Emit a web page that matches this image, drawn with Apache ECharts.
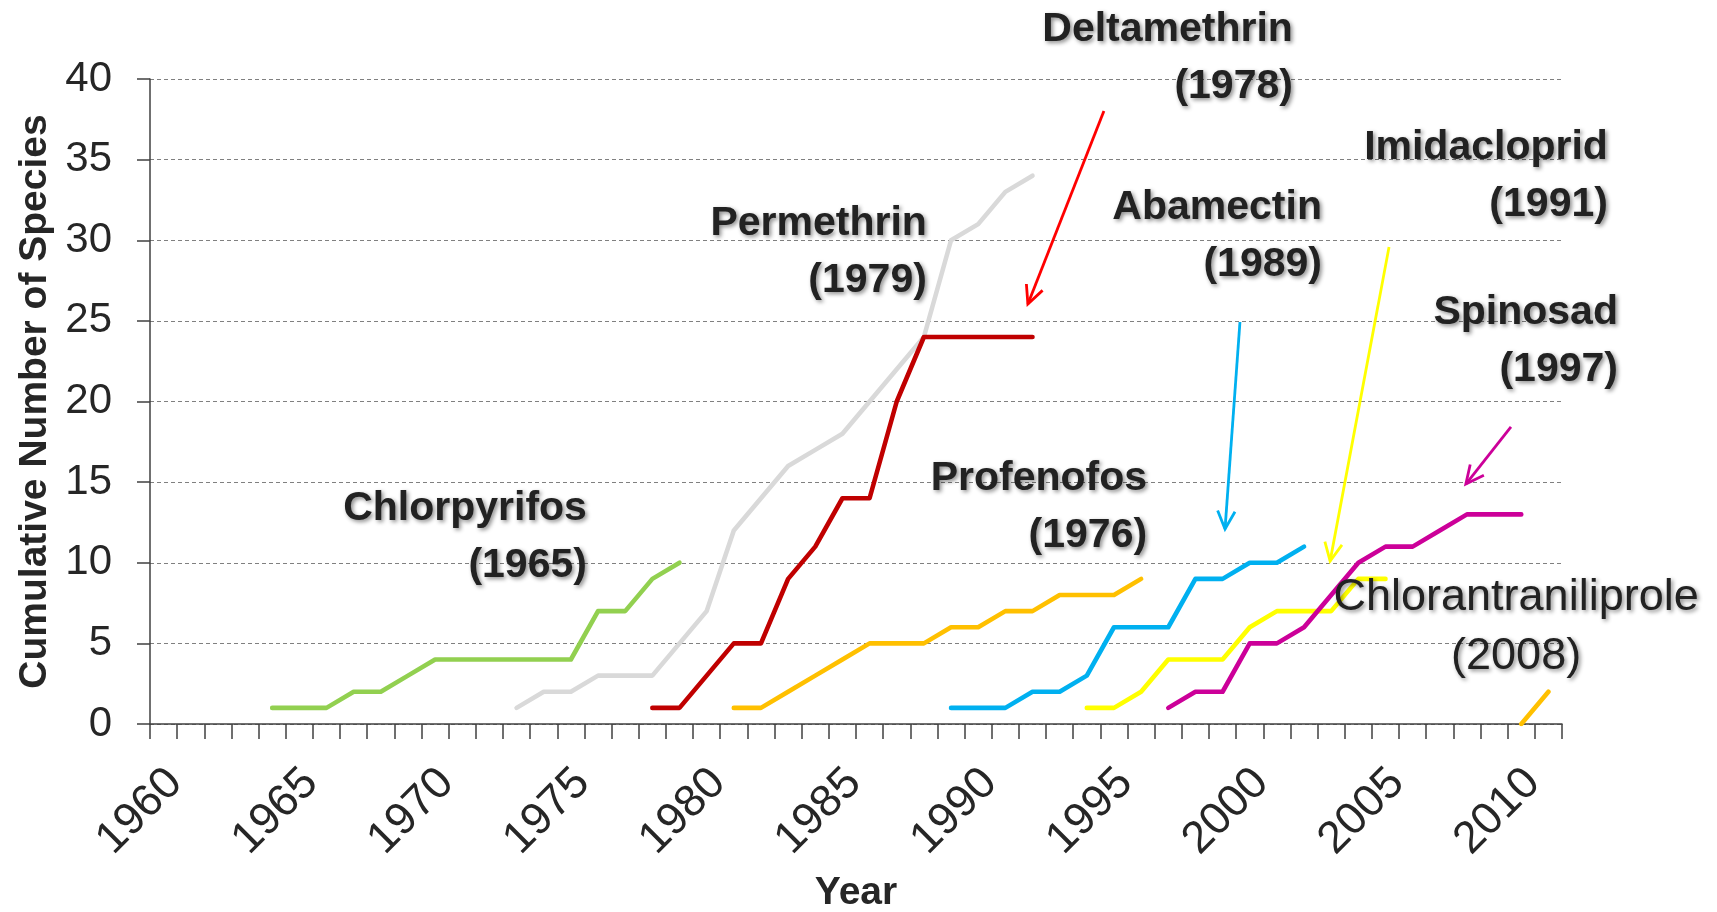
<!DOCTYPE html>
<html><head><meta charset="utf-8">
<script src="https://cdn.jsdelivr.net/npm/echarts@6/dist/echarts.min.js"></script>
<style>html,body{margin:0;padding:0;background:#fff}#c{width:1717px;height:912px}</style>
</head><body><div id="c"></div>
<script>
// ---- data ----
const years = ['1960','1961','1962','1963','1964','1965','1966','1967','1968','1969',
  '1970','1971','1972','1973','1974','1975','1976','1977','1978','1979',
  '1980','1981','1982','1983','1984','1985','1986','1987','1988','1989',
  '1990','1991','1992','1993','1994','1995','1996','1997','1998','1999',
  '2000','2001','2002','2003','2004','2005','2006','2007','2008','2009',
  '2010','2011'];
const yTicks = [0,5,10,15,20,25,30,35,40];

const chlorpyrifosStart = '1964';
const chlorpyrifos = [1,1,1,2,2,3,4,4,4,4,4,4,7,7,9,10];
const permethrinStart = '1973';
const permethrin = [1,2,2,3,3,3,5,7,12,14,16,17,18,20,22,24,30,31,33,34];
const deltamethrinStart = '1978';
const deltamethrin = [1,1,3,5,5,9,11,14,14,20,24,24,24,24,24];
const profenofosStart = '1981';
const profenofos = [1,1,2,3,4,5,5,5,6,6,7,7,8,8,8,9];
const abamectinStart = '1989';
const abamectin = [1,1,1,2,2,3,6,6,6,9,9,10,10,11];
const imidaclopridStart = '1994';
const imidacloprid = [1,1,2,4,4,4,6,7,7,7,9,9];
const spinosadStart = '1997';
const spinosad = [1,2,2,5,5,6,8,10,11,11,12,13,13,13];
const chlorantraniliproleStart = '2010';
const chlorantraniliprole = [0,2];

const labelNames = ['Chlorpyrifos','Permethrin','Deltamethrin','Profenofos','Abamectin','Imidacloprid','Spinosad','Chlorantraniliprole'];
const labelYears = ['(1965)','(1979)','(1978)','(1976)','(1989)','(1991)','(1997)','(2008)'];

// ---- helpers ----
function expand(start, vals) {
  const s = years.indexOf(start);
  return years.map((y, i) => (i >= s && i - s < vals.length) ? vals[i - s] : null);
}
const FONT = '"Liberation Sans", Arial, sans-serif';
const colors = ['#92D050','#D9D9D9','#C00000','#FFC000','#00B0F0','#FFFF00','#CC0099','#FFC000'];
const seriesData = [
  expand(chlorpyrifosStart, chlorpyrifos),
  expand(permethrinStart, permethrin),
  expand(deltamethrinStart, deltamethrin),
  expand(profenofosStart, profenofos),
  expand(abamectinStart, abamectin),
  expand(imidaclopridStart, imidacloprid),
  expand(spinosadStart, spinosad),
  expand(chlorantraniliproleStart, chlorantraniliprole)
];

const chart = echarts.init(document.getElementById('c'), null, {renderer: 'canvas'});
chart.setOption({
  animation: false,
  backgroundColor: '#fff',
  grid: {left: 150, right: 155, top: 79, bottom: 188, containLabel: false, outerBoundsMode: 'none'},
  xAxis: {
    type: 'category', data: years, boundaryGap: true,
    name: 'Year', nameLocation: 'middle', nameGap: 150,
    nameTextStyle: {fontFamily: FONT, fontWeight: 'bold', fontSize: 39, color: '#262626'},
    axisLine: {show: true, lineStyle: {color: '#404040', width: 1.5}},
    axisTick: {show: true, interval: 0, length: 15, lineStyle: {color: '#404040', width: 1.5}},
    axisLabel: {interval: 4, rotate: 45, fontFamily: FONT, fontSize: 45, color: '#262626',
      margin: 32, align: 'right', verticalAlign: 'top', padding: [0, 6, 0, 0]},
    splitLine: {show: false}
  },
  yAxis: {
    type: 'value', min: 0, max: 40, interval: 5,
    name: 'Cumulative Number of Species', nameLocation: 'middle', nameGap: 95, nameRotate: 90,
    nameTextStyle: {fontFamily: FONT, fontWeight: 'bold', fontSize: 39, color: '#262626'},
    axisLine: {show: true, lineStyle: {color: '#404040', width: 1.5}},
    axisTick: {show: true, length: 13, lineStyle: {color: '#404040', width: 1.5}},
    axisLabel: {fontFamily: FONT, fontSize: 42, color: '#262626', margin: 38,
      formatter: v => yTicks.includes(v) ? String(v) : ''},
    splitLine: {show: true, lineStyle: {color: '#808080', type: [4, 3], width: 1}}
  },
  series: seriesData.map((d, k) => ({
    type: 'line', data: d, showSymbol: false, symbol: 'none', connectNulls: false,
    lineStyle: {color: colors[k], width: 4.6, cap: 'round', join: 'round'},
    itemStyle: {color: colors[k]}, z: 2 + k
  }))
});

// ---- annotations, placed in data coordinates ----
function pt(year, v) {
  const a = chart.convertToPixel({gridIndex: 0}, [0, v]);
  const b = chart.convertToPixel({gridIndex: 0}, [1, v]);
  return [a[0] + (b[0] - a[0]) * (year - 1960), a[1]];
}
// [year position of right edge (or center), value at block middle, align]
const labelLayout = [
  [1975.59, 11.6, 'right'],
  [1988.11, 29.27, 'right'],
  [2001.59, 41.3, 'right'],
  [1996.22, 13.43, 'right'],
  [2002.66, 30.23, 'right'],
  [2013.19, 33.98, 'right'],
  [2013.56, 23.72, 'right'],
  [2009.81, 5.98, 'center']
];
// arrows: [tailYear, tailVal, tipYear, tipVal, color]
const arrowLayout = [
  [1994.63, 38.02, 1991.83, 26.05, '#FF0000'],
  [1999.64, 24.93, 1999.09, 12.09, '#00B0F0'],
  [2005.13, 29.58, 2002.96, 10.11, '#FFFF00'],
  [2009.62, 18.42, 2007.96, 14.88, '#CC0099']
];
const g = [];
arrowLayout.forEach(a => {
  const t = pt(a[0], a[1]), h = pt(a[2], a[3]);
  const ang = Math.atan2(h[1] - t[1], h[0] - t[0]);
  const L = 20, w = 0.45;
  const p1 = [h[0] - L * Math.cos(ang - w), h[1] - L * Math.sin(ang - w)];
  const p2 = [h[0] - L * Math.cos(ang + w), h[1] - L * Math.sin(ang + w)];
  g.push({type: 'line', shape: {x1: t[0], y1: t[1], x2: h[0], y2: h[1]},
    style: {stroke: a[4], lineWidth: 2.8}, z: 50});
  g.push({type: 'polyline', shape: {points: [p1, h, p2]},
    style: {stroke: a[4], lineWidth: 2.8, fill: null}, z: 50});
});
labelLayout.forEach((l, k) => {
  const p = pt(l[0], l[1]);
  const bold = k < 7;
  g.push({type: 'text', x: p[0], y: p[1], z: 60,
    style: {
      text: labelNames[k] + '\n' + labelYears[k],
      font: (bold ? 'bold ' : '') + (bold ? 41 : 45) + 'px ' + FONT,
      fill: '#222222',
      align: l[2], textAlign: l[2],
      verticalAlign: 'middle', textVerticalAlign: 'middle',
      lineHeight: bold ? 57 : 59,
      textShadowColor: 'rgba(0,0,0,0.45)', textShadowBlur: 4,
      textShadowOffsetX: 2, textShadowOffsetY: 2
    }});
});
chart.setOption({graphic: {elements: g}});
</script></body></html>
